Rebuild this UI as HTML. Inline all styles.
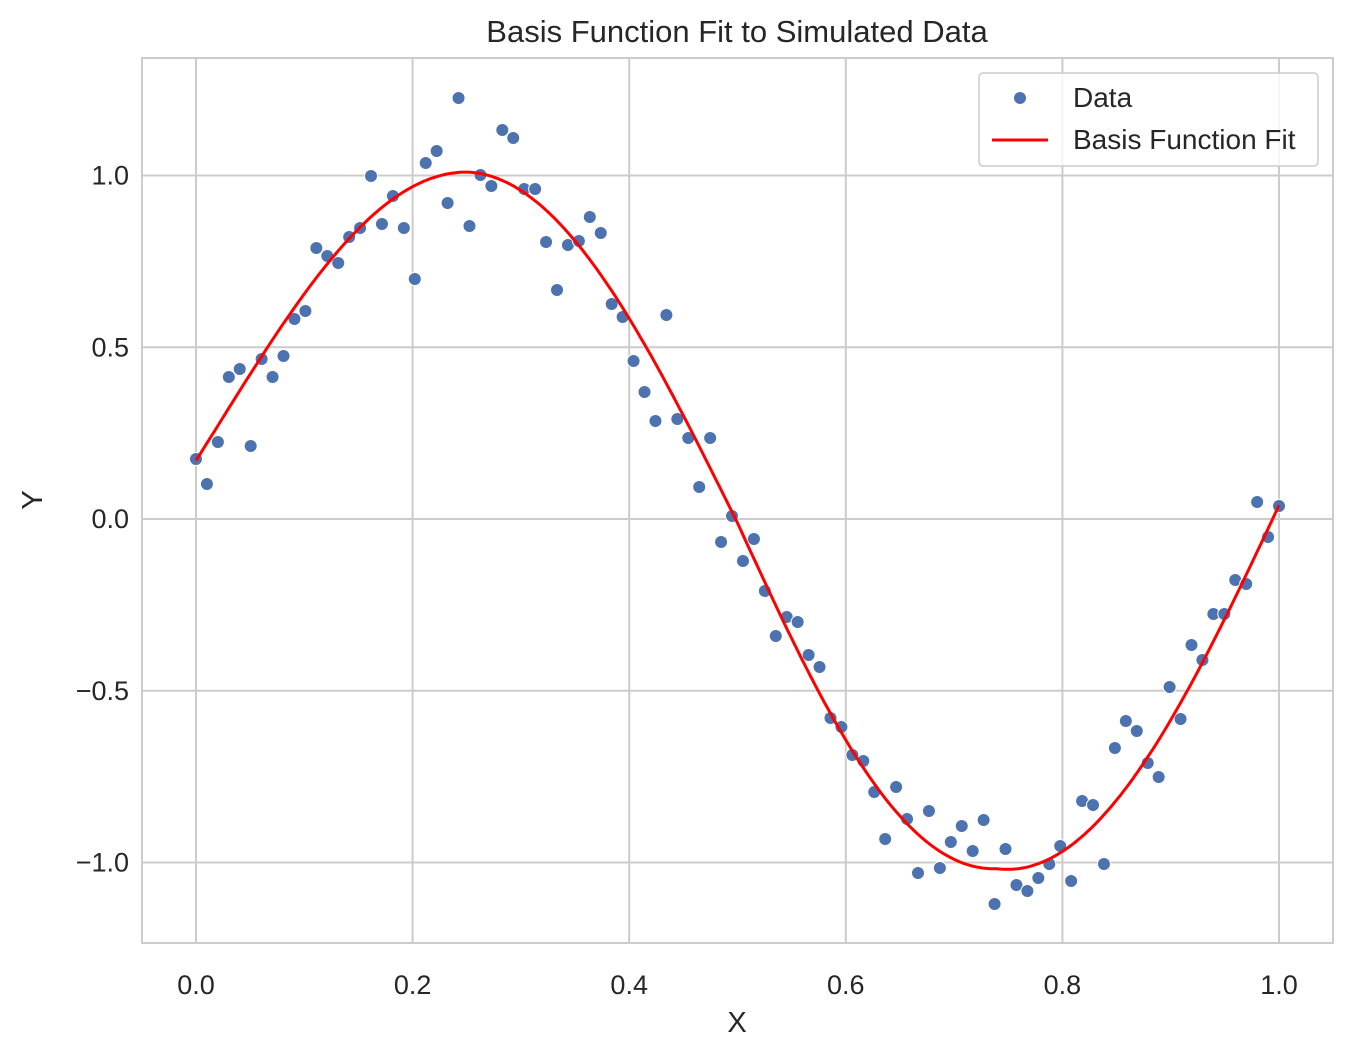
<!DOCTYPE html>
<html><head><meta charset="utf-8"><style>
body{margin:0;background:#fff;}
svg{display:block;font-family:"Liberation Sans",Arial,sans-serif;}
</style></head><body>
<svg id="s" width="1351" height="1057" xmlns="http://www.w3.org/2000/svg">
<rect width="1351" height="1057" fill="#fff"/>
<g id="grid" stroke="#cccccc" stroke-width="2"></g>
<rect x="142" y="58" width="1191" height="885" fill="none" stroke="#cccccc" stroke-width="2"/>
<g id="pts"></g>
<polyline id="fit" fill="none" stroke="#ff0000" stroke-width="3"/>
<g font-size="27" fill="#262626" id="lbl"></g>
<text x="737" y="42" font-size="31" text-anchor="middle" fill="#262626">Basis Function Fit to Simulated Data</text>
<text x="737" y="1032" font-size="29" text-anchor="middle" fill="#262626">X</text>
<text x="42" y="500" font-size="29" text-anchor="middle" fill="#262626" transform="rotate(-90 42 500)">Y</text>
<rect x="979" y="73" width="339" height="93" rx="4" fill="#fff" fill-opacity="0.8" stroke="#cccccc" stroke-width="1.5"/>
<circle cx="1020" cy="98" r="6.5" fill="#4c72b0" stroke="#fff" stroke-width="1"/>
<text x="1073" y="107" font-size="28" fill="#262626">Data</text>
<line x1="992" y1="140" x2="1048" y2="140" stroke="#ff0000" stroke-width="3"/>
<text x="1073" y="149" font-size="28" fill="#262626">Basis Function Fit</text>
</svg>
<script>
var X=function(v){return 196+1083*v},Y=function(v){return 519-343.5*v};
var g=document.getElementById('grid'),l=document.getElementById('lbl'),ns='http://www.w3.org/2000/svg';
function el(p,t,a,txt){var e=document.createElementNS(ns,t);for(var k in a)e.setAttribute(k,a[k]);if(txt)e.textContent=txt;p.appendChild(e);}
[0,0.2,0.4,0.6,0.8,1].forEach(function(v){var x=X(v);el(g,'line',{x1:x,x2:x,y1:58,y2:943});el(l,'text',{x:x,y:994,'text-anchor':'middle'},v.toFixed(1));});
[-1,-0.5,0,0.5,1].forEach(function(v){var y=Y(v);el(g,'line',{x1:142,x2:1333,y1:y,y2:y});el(l,'text',{x:129,y:y+9,'text-anchor':'end'},(v<0?'\u2212':'')+Math.abs(v).toFixed(1));});
var py=[459,484,442,377,369,446,359,377,356,319,311,248,256,263,237,228,176,224,196,228,279,163,151,203,98,226,175,186,130,138,189,189,242,290,245,241,217,233,304,317,361,392,421,315,419,438,487,438,542,516,561,539,591,636,617,622,655,667,718,727,755,761,792,839,787,819,873,811,868,842,826,851,820,904,849,885,891,878,864,846,881,801,805,864,748,721,731,763,777,687,719,645,660,614,614,580,584,502,537,506];
var pg=document.getElementById('pts');
py.forEach(function(y,i){el(pg,'circle',{cx:X(i/99),cy:y,r:6.5,fill:'#4c72b0',stroke:'#fff','stroke-width':1});});
function d(x){if(x<0.25)return 0.16*Math.pow(1-4*x,2)+0.01;if(x<0.74)return 0.01-0.03*Math.sin(Math.PI*(x-0.25)/0.49*0.5)-0.04*Math.sin(Math.PI*(x-0.5)/0.24)*(x>0.5?1:0);return -0.02+0.06*Math.pow((x-0.74)/0.26,2);}
var s='';for(var i=0;i<=300;i++){var x=i/300;var y=Math.sin(2*Math.PI*x)+d(x);s+=X(x).toFixed(1)+','+Y(y).toFixed(1)+' ';}
document.getElementById('fit').setAttribute('points',s);
</script>
</body></html>
